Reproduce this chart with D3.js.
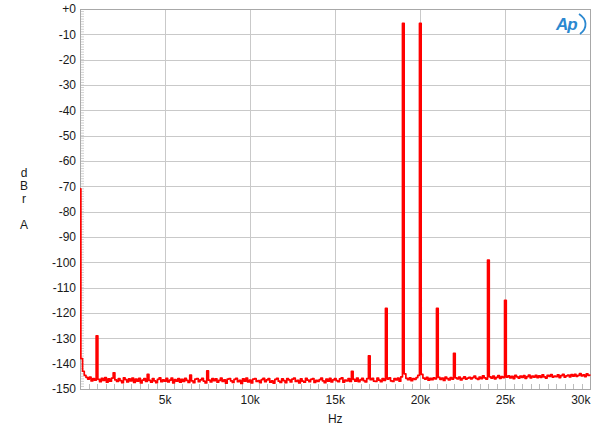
<!DOCTYPE html>
<html>
<head>
<meta charset="utf-8">
<script src="https://cdn.jsdelivr.net/npm/d3@7"></script>
<style>
  html, body { margin: 0; padding: 0; background: #fff; }
  svg { display: block; font-family: "Liberation Sans", Arial, sans-serif; }
</style>
</head>
<body>
<svg id="chart" width="600" height="433"></svg>
<script>
// ---- data ----
const binStepHz = 100; // analyzer bin spacing used for the level array below
// level in dBr A for each 100 Hz bin from 0 Hz to 30 kHz (rows = 1 kHz)
const levelsDb = [
  -71, -138, -143, -144.6, -145.4, -146.1, -145.3, -146.8, -145.9, -146.5,
  -129, -146.2, -147.1, -145.8, -146.6, -145.5, -147.3, -146.0, -146.9, -145.7,
  -143.6, -146.4, -147.0, -145.9, -146.7, -147.5, -145.6, -146.3, -147.2, -146.0,
  -146.8, -145.7, -147.4, -146.1, -146.9, -145.8, -147.6, -146.5, -145.9, -147.0,
  -144.2, -146.6, -147.3, -145.9, -146.8, -147.5, -146.2, -145.6, -147.1, -146.4,
  -146.9, -145.8, -147.2, -146.5, -145.7, -147.6, -146.3, -146.9, -145.9, -147.3,
  -146.2, -147.0, -145.8, -146.6, -147.4, -144.5, -146.8, -147.5, -146.1, -145.9,
  -147.1, -146.4, -145.8, -146.9, -147.6, -142.8, -146.5, -147.2, -145.9, -146.7,
  -146.0, -147.3, -146.6, -145.7, -147.0, -146.4, -147.7, -146.1, -145.9, -146.8,
  -147.4, -146.2, -145.8, -147.1, -146.6, -147.8, -146.0, -146.9, -145.7, -147.2,
  -146.5, -147.6, -146.1, -145.9, -147.0, -146.7, -147.5, -146.3, -145.8, -147.1,
  -146.4, -145.9, -147.3, -146.8, -147.7, -146.2, -145.8, -146.9, -147.4, -146.0,
  -146.7, -147.5, -145.9, -146.4, -147.2, -146.1, -145.7, -147.0, -146.6, -147.6,
  -146.0, -146.9, -147.3, -145.8, -146.5, -147.1, -146.2, -145.9, -147.4, -146.6,
  -147.0, -146.3, -145.7, -146.8, -147.5, -146.1, -146.9, -145.8, -147.2, -146.4,
  -145.9, -146.7, -147.1, -146.0, -145.6, -147.3, -146.5, -146.8, -145.9, -147.0,
  -143.0, -146.2, -146.9, -145.7, -147.1, -146.4, -145.8, -146.7, -147.2, -145.9,
  -136.9, -146.3, -145.8, -146.9, -147.0, -145.7, -146.5, -147.1, -145.9, -146.6,
  -118.2, -146.1, -145.6, -146.8, -147.0, -145.9, -146.4, -145.7, -146.9, -145.2,
  -5.7, -144.0, -145.8, -146.3, -145.6, -146.7, -145.9, -146.2, -145.5, -144.6,
  -5.7, -144.2, -145.7, -146.1, -145.4, -146.5, -145.8, -146.3, -145.6, -146.0,
  -118.2, -145.4, -146.2, -145.7, -146.6, -145.3, -145.9, -146.4, -145.5, -146.1,
  -135.9, -145.6, -146.0, -145.3, -146.4, -145.8, -145.2, -146.1, -145.7, -145.4,
  -146.0, -145.5, -144.9, -145.8, -146.2, -145.3, -145.9, -144.8, -145.6, -146.1,
  -99.1, -145.2, -145.7, -144.9, -146.0, -145.4, -144.7, -145.8, -145.1, -145.5,
  -115.0, -145.3, -144.8, -145.6, -145.0, -145.9, -144.6, -145.2, -145.7, -144.9,
  -145.4, -144.7, -145.8, -145.1, -144.5, -145.6, -144.9, -145.3, -144.6, -145.5,
  -144.8, -145.4, -144.4, -145.2, -145.7, -144.6, -145.0, -144.3, -145.3, -144.9,
  -145.1, -144.4, -145.5, -144.7, -144.2, -145.3, -144.8, -144.5, -145.2, -144.3,
  -144.9, -144.2, -145.0, -144.6, -143.9, -144.8, -144.4, -145.1, -144.0, -144.6,
  -144.5
];
const xTicksHz = [5000, 10000, 15000, 20000, 25000, 30000];
const xTickLabels = ["5k", "10k", "15k", "20k", "25k", "30k"];
const yTicksDb = [0, -10, -20, -30, -40, -50, -60, -70, -80, -90, -100, -110, -120, -130, -140, -150];
const yTickLabels = ["+0", "-10", "-20", "-30", "-40", "-50", "-60", "-70", "-80", "-90", "-100", "-110", "-120", "-130", "-140", "-150"];
const yTitleLetters = ["d", "B", "r", "", "A"];
const xTitle = "Hz";

// ---- layout ----
const plotL = 80, plotR = 590.5, plotT = 9, plotB = 389;
const svg = d3.select("#chart");
const x = d3.scaleLinear().domain([0, 30000]).range([plotL, plotR]);
const y = d3.scaleLinear().domain([-150, 0]).range([plotB, plotT]);

// grid
const grid = svg.append("g");
grid.selectAll("line.h").data(yTicksDb.filter(d => d > -150 && d < 0)).join("line")
  .attr("x1", plotL).attr("x2", plotR)
  .attr("y1", d => Math.round(y(d)) + 0.5).attr("y2", d => Math.round(y(d)) + 0.5)
  .attr("stroke", "#c9c9c9").attr("stroke-width", 1);
grid.selectAll("line.v").data(xTicksHz.filter(d => d < 30000)).join("line")
  .attr("x1", d => Math.round(x(d)) + 0.5).attr("x2", d => Math.round(x(d)) + 0.5)
  .attr("y1", plotT).attr("y2", plotB)
  .attr("stroke", "#c9c9c9").attr("stroke-width", 1);

// minor ticks
const minorY = d3.range(-149, 0, 1);
grid.selectAll("line.my").data(minorY).join("line")
  .attr("x1", plotL).attr("x2", plotL + 4)
  .attr("y1", d => y(d)).attr("y2", d => y(d))
  .attr("stroke", "#c4c4c4").attr("stroke-width", 0.8);
const minorX = d3.range(500, 30000, 500);
grid.selectAll("line.mx").data(minorX).join("line")
  .attr("x1", d => Math.round(x(d)) + 0.5).attr("x2", d => Math.round(x(d)) + 0.5)
  .attr("y1", plotB).attr("y2", plotB - 5)
  .attr("stroke", "#bdbdbd").attr("stroke-width", 1);

// frame
svg.append("rect")
  .attr("x", plotL + 0.5).attr("y", plotT + 0.5)
  .attr("width", plotR - plotL - 0.5).attr("height", plotB - plotT)
  .attr("fill", "none").attr("stroke", "#a8a8a8").attr("stroke-width", 1);

// axis labels
svg.append("g").selectAll("text").data(yTicksDb).join("text")
  .attr("x", 76).attr("y", d => y(d))
  .attr("dy", "0.36em")
  .attr("text-anchor", "end")
  .attr("font-size", 12).attr("fill", "#1a1a1a")
  .text((d, i) => yTickLabels[i]);

svg.append("g").selectAll("text").data(xTicksHz).join("text")
  .attr("x", d => x(d))
  .attr("y", 404)
  .attr("text-anchor", d => d === 30000 ? "end" : "middle")
  .attr("font-size", 12).attr("fill", "#1a1a1a")
  .text((d, i) => xTickLabels[i]);

svg.append("text").attr("x", x(15000)).attr("y", 423)
  .attr("text-anchor", "middle").attr("font-size", 12).attr("fill", "#1a1a1a")
  .text(xTitle);

svg.append("g").selectAll("text").data(yTitleLetters).join("text")
  .attr("x", 24).attr("y", (d, i) => 177 + i * 13)
  .attr("text-anchor", "middle").attr("font-size", 12).attr("fill", "#1a1a1a")
  .text(d => d);

// trace
const pts = levelsDb.map((v, i) => [i * binStepHz, v]);
svg.append("path")
  .datum(pts)
  .attr("fill", "none")
  .attr("stroke", "#ff0000")
  .attr("stroke-width", 1.7)
  .attr("stroke-linejoin", "round")
  .attr("d", d3.line().curve(d3.curveStep).x(d => x(d[0])).y(d => y(d[1])));

// Ap logo
const logo = svg.append("g").attr("transform", "translate(551,13)");
logo.append("text").attr("x", 5).attr("y", 17)
  .attr("font-size", 17).attr("font-style", "italic").attr("font-weight", "bold")
  .attr("fill", "#2b88d0").attr("font-family", "Liberation Sans, Arial, sans-serif")
  .attr("letter-spacing", -1)
  .text("Ap");
logo.append("path")
  .attr("d", "M28,1 C36,6 37,15 29,21")
  .attr("fill", "none").attr("stroke", "#2b88d0").attr("stroke-width", 1.8);
</script>
</body>
</html>
